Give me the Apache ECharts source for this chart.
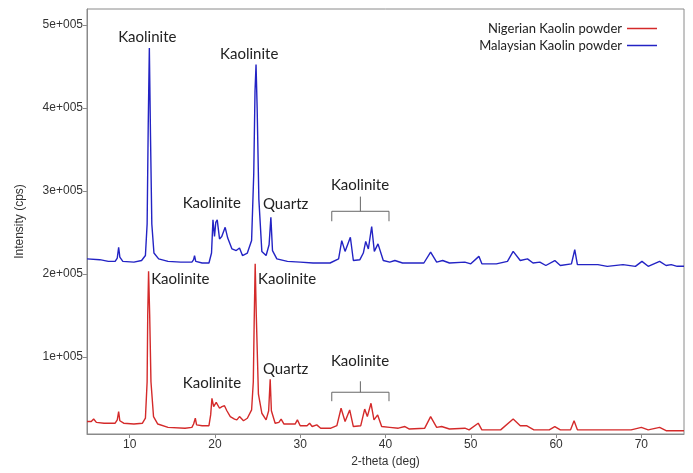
<!DOCTYPE html>
<html>
<head>
<meta charset="utf-8">
<script src="https://cdn.jsdelivr.net/npm/echarts@6/dist/echarts.min.js"></script>
<style>
  html, body { margin: 0; padding: 0; background: #fff; }
  #chart { width: 693px; height: 473px; }
</style>
</head>
<body>
<div id="chart"></div>
<script>
// tick labels
const xTicks = [10, 20, 30, 40, 50, 60, 70];
const yTicks = [100000, 200000, 300000, 400000, 500000];

// Nigerian kaolin (red): [2-theta, cps]
const nigerian = [
  [5.0, 22000], [5.5, 22000], [5.78, 25000], [6.1, 21000], [7.0, 20000], [8.3, 20000],
  [8.55, 24000], [8.71, 34000], [8.85, 23000], [9.3, 20000], [10.5, 19000], [11.5, 20000],
  [11.85, 26000], [12.05, 70000], [12.12, 150000], [12.22, 203000], [12.35, 150000],
  [12.5, 70000], [12.8, 28000], [13.3, 19000], [14.5, 15000], [16.5, 14000], [17.3, 15000],
  [17.5, 19000], [17.7, 26000], [17.85, 18000], [18.5, 17000], [19.3, 17000], [19.5, 30000],
  [19.65, 50000], [19.85, 40000], [20.15, 45000], [20.54, 38000], [20.82, 40000],
  [21.12, 41000], [21.4, 35000], [21.8, 28000], [22.3, 25000], [22.57, 24000], [22.88, 28000],
  [23.35, 23000], [23.8, 26000], [24.3, 36000], [24.5, 70000], [24.6, 140000], [24.72, 212000],
  [24.85, 150000], [25.1, 55000], [25.5, 32000], [26.0, 24000], [26.3, 35000], [26.48, 73000],
  [26.62, 35000], [27.06, 20000], [27.5, 21000], [27.76, 25000], [28.1, 19000], [28.8, 19000],
  [29.4, 19000], [29.67, 24000], [30.0, 17000], [30.8, 17000], [31.1, 20000], [31.4, 16000],
  [31.94, 18000], [32.4, 14000], [33.6, 14000], [34.3, 17000], [34.79, 38000], [35.26, 22000],
  [35.8, 36000], [36.23, 16000], [37.1, 17000], [37.56, 37000], [37.87, 28000], [38.3, 44000],
  [38.65, 24000], [39.08, 30000], [39.55, 16000], [40.5, 15000], [41.5, 14000], [42.28, 16000],
  [42.8, 13000], [44.6, 14000], [45.29, 28000], [46.0, 15000], [46.58, 16000], [47.5, 13000],
  [49.31, 14000], [49.8, 12000], [50.87, 20000], [51.3, 12000], [53.5, 12000], [54.97, 25000],
  [55.8, 17000], [56.53, 17000], [57.4, 12000], [59.2, 12000], [59.85, 16000], [60.5, 12000],
  [61.7, 12000], [62.11, 23000], [62.5, 12000], [64.5, 12000], [66.5, 12000], [68.8, 12000],
  [70.0, 15000], [70.8, 12000], [72.14, 15000], [72.9, 11000], [75.0, 11000]
];

// Malaysian kaolin (blue): [2-theta, cps]
const malaysian = [
  [5.0, 218000], [6.5, 217000], [7.5, 215000], [8.3, 215000], [8.55, 219000], [8.71, 232000],
  [8.85, 220000], [9.2, 215000], [10.5, 214000], [11.4, 216000], [11.85, 222000], [12.05, 260000],
  [12.18, 380000], [12.31, 472000], [12.44, 370000], [12.6, 260000], [12.85, 225000],
  [13.4, 218000], [14.5, 215000], [16.0, 214000], [17.3, 214000], [17.5, 217000], [17.61, 222000],
  [17.75, 215000], [18.5, 213000], [19.3, 213000], [19.6, 225000], [19.77, 265000], [19.95, 245000],
  [20.1, 262000], [20.27, 265000], [20.54, 242000], [20.8, 245000], [21.2, 256000], [21.5, 243000],
  [22.0, 230000], [22.5, 228000], [22.88, 231000], [23.23, 222000], [23.8, 225000], [24.3, 240000],
  [24.55, 320000], [24.7, 420000], [24.82, 452000], [24.95, 400000], [25.15, 290000],
  [25.5, 227000], [26.0, 222000], [26.35, 235000], [26.56, 268000], [26.75, 228000],
  [27.26, 218000], [28.5, 215000], [30.0, 214000], [31.5, 213000], [33.5, 213000], [34.5, 218000],
  [34.87, 240000], [35.26, 227000], [35.88, 244000], [36.23, 216000], [37.0, 217000],
  [37.4, 225000], [37.68, 239000], [37.99, 230000], [38.38, 257000], [38.69, 227000],
  [39.12, 236000], [39.74, 216000], [40.5, 214000], [41.1, 216000], [42.0, 213000], [44.5, 213000],
  [45.29, 226000], [46.0, 214000], [46.7, 216000], [47.5, 213000], [49.3, 214000], [50.0, 212000],
  [50.95, 221000], [51.3, 212000], [53.0, 212000], [54.3, 215000], [54.97, 227000], [55.8, 216000],
  [56.65, 218000], [57.3, 213000], [58.1, 214000], [58.8, 210000], [59.85, 216000], [60.5, 210000],
  [61.8, 212000], [62.19, 229000], [62.5, 211000], [63.95, 211000], [64.9, 211000], [66.0, 209000],
  [67.85, 211000], [69.3, 209000], [70.07, 215000], [70.8, 209000], [72.14, 215000],
  [72.9, 210000], [73.5, 211000], [74.2, 209000], [75.0, 209000]
];

// peak labels in data coordinates: [2-theta, cps, text]
const peakLabels = [
  [12.07, 484600, 'Kaolinite'],
  [24.02, 464600, 'Kaolinite'],
  [19.63, 285300, 'Kaolinite'],
  [28.29, 283300, 'Quartz'],
  [37.01, 307300, 'Kaolinite'],
  [15.94, 193600, 'Kaolinite'],
  [28.47, 193300, 'Kaolinite'],
  [19.65, 68400, 'Kaolinite'],
  [28.29, 85200, 'Quartz'],
  [37.01, 94500, 'Kaolinite']
];

// brackets: [from, to, bar, legs, tip]
const brackets = [
  [33.7, 40.41, 275300, 263300, 293000],
  [33.7, 40.41, 57300, 46500, 70500]
];

const chart = echarts.init(document.getElementById('chart'));
const axisFont = { fontFamily: 'Liberation Sans', fontSize: 12, color: '#333' };
const lineIcon = 'path://M0,0 L30,0 L30,1.5 L0,1.5 Z';

chart.setOption({
  animation: false,
  grid: { left: 87, right: 9, top: 9, bottom: 36, show: true, borderColor: '#8a8a8a', borderWidth: 1 },
  legend: {
    orient: 'vertical',
    align: 'right',
    right: 31,
    top: 17,
    itemWidth: 30,
    itemHeight: 14,
    itemGap: 4,
    textStyle: { fontFamily: 'Lato', fontSize: 13, color: '#222' },
    data: [
      { name: 'Nigerian Kaolin powder', icon: lineIcon },
      { name: 'Malaysian Kaolin powder', icon: lineIcon }
    ]
  },
  xAxis: {
    type: 'value',
    min: 5,
    max: 75,
    name: '2-theta (deg)',
    nameLocation: 'middle',
    nameGap: 22,
    nameTextStyle: axisFont,
    axisLine: { show: true, lineStyle: { color: '#8a8a8a' } },
    axisTick: { show: true, length: 4, customValues: xTicks, lineStyle: { color: '#8a8a8a' } },
    axisLabel: Object.assign({ margin: 5, customValues: xTicks }, axisFont),
    splitLine: { show: false }
  },
  yAxis: {
    type: 'value',
    min: 7000,
    max: 519000,
    name: 'Intensity (cps)',
    nameLocation: 'middle',
    nameGap: 61,
    nameTextStyle: axisFont,
    axisLine: { show: true, lineStyle: { color: '#8a8a8a' } },
    axisTick: { show: true, length: 4, customValues: yTicks, lineStyle: { color: '#8a8a8a' } },
    axisLabel: Object.assign({
      margin: 4,
      customValues: yTicks,
      formatter: v => (v / 100000) + 'e+005'
    }, axisFont),
    splitLine: { show: false }
  },
  series: [
    {
      name: 'Nigerian Kaolin powder',
      type: 'line',
      data: nigerian,
      showSymbol: false,
      symbol: 'none',
      color: '#d42a2a',
      lineStyle: { width: 1.4, color: '#d42a2a' }
    },
    {
      name: 'Malaysian Kaolin powder',
      type: 'line',
      data: malaysian,
      showSymbol: false,
      symbol: 'none',
      color: '#2323c4',
      lineStyle: { width: 1.4, color: '#2323c4' }
    }
  ]
});

// annotations placed from data coordinates
const px = (x, y) => chart.convertToPixel({ gridIndex: 0 }, [x, y]);
const graphics = [];
peakLabels.forEach(([x, y, t]) => {
  const p = px(x, y);
  graphics.push({
    type: 'text',
    x: p[0], y: p[1],
    style: {
      text: t, fontFamily: 'Lato', fontSize: 15, fill: '#222',
      align: 'center', verticalAlign: 'middle'
    }
  });
});
brackets.forEach(([x0, x1, bar, legs, tip]) => {
  const a = px(x0, legs), b = px(x0, bar), c = px(x1, bar), d = px(x1, legs);
  const m = px((x0 + x1) / 2, bar), t = px((x0 + x1) / 2, tip);
  graphics.push({
    type: 'polyline',
    shape: { points: [a, b, c, d] },
    style: { stroke: '#666', lineWidth: 1, fill: null }
  });
  graphics.push({
    type: 'line',
    shape: { x1: m[0], y1: m[1], x2: t[0], y2: t[1] },
    style: { stroke: '#666', lineWidth: 1 }
  });
});
chart.setOption({ graphic: graphics });
</script>
</body>
</html>
